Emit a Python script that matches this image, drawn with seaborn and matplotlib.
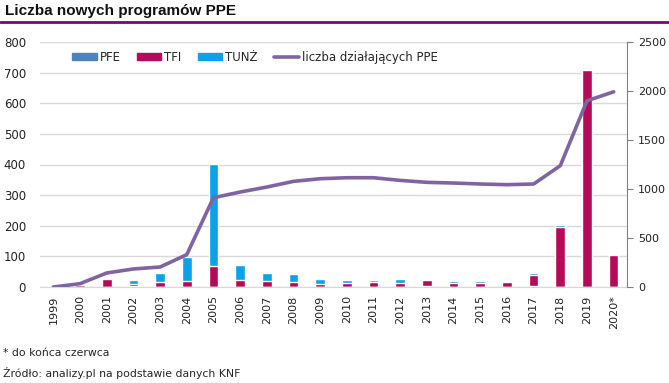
import numpy as np
import pandas as pd
import matplotlib
matplotlib.use("Agg")
import matplotlib.pyplot as plt
import matplotlib.patches as mpatches
import matplotlib.lines as mlines
import seaborn as sns

# values
years = ["1999", "2000", "2001", "2002", "2003", "2004", "2005", "2006", "2007", "2008", "2009",
         "2010", "2011", "2012", "2013", "2014", "2015", "2016", "2017", "2018", "2019", "2020*"]
pfe = [0, 0, 0, 4, 0, 0, 0, 0, 0, 0, 0, 0, 0, 0, 3, 0, 0, 0, 4, 0, 0, 0]
tfi = [0, 8, 26, 7, 17, 21, 70, 24, 21, 17, 11, 14, 17, 14, 21, 14, 14, 17, 36, 197, 707, 106]
tunz = [0, 0, 5, 11, 30, 78, 333, 49, 26, 27, 16, 10, 7, 13, 3, 7, 7, 4, 7, 7, 3, 0]
active_ppe = [0, 34, 143, 184, 204, 330, 911, 969, 1020, 1078, 1105, 1115, 1115, 1088, 1068,
              1061, 1051, 1044, 1051, 1238, 1900, 1992]

c_pfe = "#4F81BD"
c_tfi = "#B5095A"
c_tunz = "#0BA1EC"
c_line = "#8064A2"

df = pd.DataFrame({"rok": years, "PFE": pfe, "TFI": tfi, "TUNZ": tunz})
df["PFE_TFI"] = df["PFE"] + df["TFI"]
df["total"] = df["PFE_TFI"] + df["TUNZ"]

sns.set_style("white")
plt.rcParams["font.family"] = ["DejaVu Sans"]

fig = plt.figure(figsize=(6.69, 3.83), dpi=100)
ax = fig.add_axes([40 / 669, 1 - 287 / 383, 587 / 669, 245 / 383])

# stacked bars: draw totals first, then lower segments on top
sns.barplot(data=df, x="rok", y="total", color=c_tunz, width=0.36, saturation=1, ax=ax)
sns.barplot(data=df, x="rok", y="PFE_TFI", color=c_tfi, width=0.36, saturation=1, ax=ax)
sns.barplot(data=df, x="rok", y="PFE", color=c_pfe, width=0.36, saturation=1, ax=ax)

ax.set_ylim(0, 800)
ax.set_xlim(-0.5, len(years) - 0.5)
ax.set_yticks(np.arange(0, 801, 100))
ax.yaxis.grid(True, color="#D9D9D9", linewidth=1)
ax.set_axisbelow(True)
ax.set_xlabel("")
ax.set_ylabel("")
for s in ["left", "top", "right"]:
    ax.spines[s].set_visible(False)
ax.spines["bottom"].set_color("#D9D9D9")
ax.tick_params(axis="x", rotation=90, labelsize=8, length=0, pad=6, colors="#222222")
ax.tick_params(axis="y", labelsize=8.5, length=0, pad=10, colors="#222222")

ax2 = ax.twinx()
sns.lineplot(x=np.arange(len(years)), y=active_ppe, color=c_line, linewidth=2.6, ax=ax2)
ax2.set_ylim(0, 2500)
ax2.set_yticks(np.arange(0, 2501, 500))
for s in ["left", "top", "bottom"]:
    ax2.spines[s].set_visible(False)
ax2.spines["right"].set_color("#808080")
ax2.tick_params(axis="y", labelsize=8, length=4, pad=4, colors="#222222")
ax2.tick_params(axis="y", which="major", color="#808080")

handles = [
    mpatches.Patch(color=c_pfe, label="PFE"),
    mpatches.Patch(color=c_tfi, label="TFI"),
    mpatches.Patch(color=c_tunz, label="TUNŻ"),
    mlines.Line2D([], [], color=c_line, linewidth=2.6, label="liczba działających PPE"),
]
ax2.legend(handles=handles, loc="upper left", bbox_to_anchor=(0.0545, 0.965), ncol=4,
           frameon=False, fontsize=8.5, handlelength=2.1, handleheight=0.45,
           columnspacing=1.35, handletextpad=0.25, borderpad=0, borderaxespad=0)

fig.text(5 / 669, 1 - 11 / 383, "Liczba nowych programów PPE", fontsize=11, fontweight="bold",
         family="Liberation Sans", va="center", ha="left", color="#111111")
fig.add_artist(mlines.Line2D([0, 1], [1 - 21.5 / 383, 1 - 21.5 / 383], color="#800080",
                             linewidth=2, transform=fig.transFigure))
fig.text(3 / 669, 1 - 353 / 383, "* do końca czerwca", fontsize=7.8, va="center", ha="left")
fig.text(3 / 669, 1 - 373 / 383, "Źródło: analizy.pl na podstawie danych KNF", fontsize=7.8,
         va="center", ha="left")

fig.savefig("out.png", dpi=100)
